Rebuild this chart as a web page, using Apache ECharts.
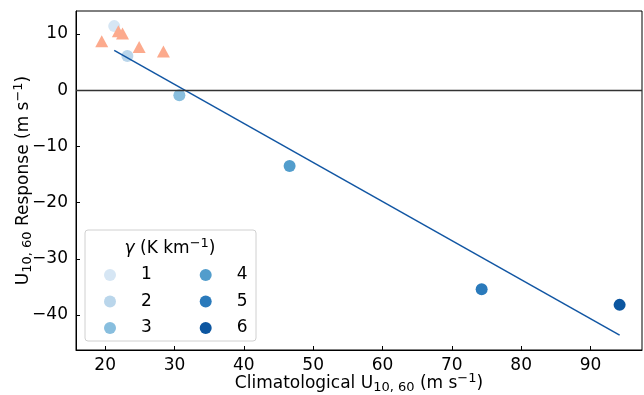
<!DOCTYPE html>
<html><head><meta charset="utf-8">
<script src="https://cdn.jsdelivr.net/npm/echarts@6/dist/echarts.min.js"></script>
<style>html,body{margin:0;padding:0;background:#fff}#c{width:644px;height:395px}</style>
</head><body><div id="c"></div>
<script>
// ---- data ----
const gammaLabels = ['1', '2', '3', '4', '5', '6'];
const circleX = [21.3, 23.2, 30.7, 46.6, 74.3, 94.2];
const circleY = [11.4, 6.1, -0.9, -13.5, -35.4, -38.2];
const triangleX = [19.5, 21.9, 22.5, 24.9, 28.4];
const triangleY = [8.7, 10.5, 10.1, 7.7, 6.9];
const fitX = [21.3, 94.2];
const fitY = [7.1, -43.6];
const xTicks = [20, 30, 40, 50, 60, 70, 80, 90];
const yTicks = [-40, -30, -20, -10, 0, 10];

// ---- styles ----
const gammaColors = ['#d6e6f4', '#bad6eb', '#88bede', '#529dcc', '#2a7abb', '#0c56a0'];
const FONT = 'DejaVu Sans';
const minus = v => String(v).replace('-', '\u2212');

const chart = echarts.init(document.getElementById('c'), null, {renderer: 'canvas'});

const series = gammaLabels.map((g, i) => ({
  name: g, type: 'scatter', symbol: 'circle', symbolSize: 12,
  data: [[circleX[i], circleY[i]]],
  itemStyle: {color: gammaColors[i], opacity: 1},
  emphasis: {disabled: true}, z: 2
}));
series.push({
  name: 'triangles', type: 'scatter', symbol: 'triangle', symbolSize: [13, 12],
  data: triangleX.map((x, i) => [x, triangleY[i]]),
  itemStyle: {color: '#fcaa8d', opacity: 1},
  emphasis: {disabled: true}, z: 3
});
series.push({
  name: 'fit', type: 'line', symbol: 'none', showSymbol: false,
  data: fitX.map((x, i) => [x, fitY[i]]),
  lineStyle: {color: '#1156a3', width: 1.5},
  emphasis: {disabled: true}, z: 4,
  markLine: {silent: true, symbol: 'none', label: {show: false}, animation: false,
    lineStyle: {color: '#333', width: 1.3, type: 'solid'}, data: [{yAxis: 0}]}
});

const rich = {
  t: {fontFamily: FONT, fontSize: 17, color: '#000'},
  s: {fontFamily: FONT, fontSize: 13, color: '#000', padding: [8, 0, 0, 0]},
  p: {fontFamily: FONT, fontSize: 13, color: '#000', padding: [0, 0, 10, 0]},
  i: {fontFamily: FONT, fontSize: 17, color: '#000', fontStyle: 'italic'}
};

const legendBase = {
  orient: 'vertical', padding: 0, itemWidth: 52, itemHeight: 12, itemGap: 8.5,
  icon: 'circle', selectedMode: false, z: 10,
  textStyle: {fontFamily: FONT, fontSize: 17, color: '#000', lineHeight: 18}
};

chart.setOption({
  animation: false,
  backgroundColor: '#fff',
  grid: {left: 76, right: 2, top: 11, bottom: 45, containLabel: false, outerBoundsMode: 'none',
         show: true, borderColor: '#000', borderWidth: 1, backgroundColor: 'transparent'},
  xAxis: {
    type: 'value', min: 15.79, max: 97.43,
    name: '{t|Climatological U}{s|10, 60}{t| (m s}{p|\u22121}{t|)}',
    nameLocation: 'middle', nameGap: 22, nameMoveOverlap: false,
    nameTextStyle: {fontFamily: FONT, fontSize: 17, color: '#000', rich: rich},
    axisLine: {show: true, onZero: false, lineStyle: {color: '#000', width: 1}},
    axisTick: {show: true, inside: true, length: 4, customValues: xTicks, lineStyle: {color: '#000'}},
    axisLabel: {customValues: xTicks, formatter: minus, fontFamily: FONT, fontSize: 17, color: '#000', margin: 7},
    splitLine: {show: false}
  },
  yAxis: {
    type: 'value', min: -46.23, max: 14.09,
    name: '{t|U}{s|10, 60}{t| Response (m s}{p|\u22121}{t|)}',
    nameLocation: 'middle', nameGap: 41, nameRotate: 90, nameMoveOverlap: false,
    nameTextStyle: {fontFamily: FONT, fontSize: 17, color: '#000', rich: rich},
    axisLine: {show: true, onZero: false, lineStyle: {color: '#000', width: 1}},
    axisTick: {show: true, inside: true, length: 4, customValues: yTicks, lineStyle: {color: '#000'}},
    axisLabel: {customValues: yTicks, formatter: minus, fontFamily: FONT, fontSize: 17, color: '#000', margin: 8},
    splitLine: {show: false}
  },
  legend: [
    Object.assign({}, legendBase, {data: gammaLabels.slice(0, 3), left: 104, top: 266}),
    Object.assign({}, legendBase, {data: gammaLabels.slice(3, 6), left: 199.7, top: 266})
  ],
  graphic: [
    {type: 'rect', x: 85, y: 230, z: 1,
     shape: {x: 0, y: 0, width: 171, height: 111, r: 3},
     style: {fill: 'rgba(255,255,255,0.8)', stroke: '#d0d0d0', lineWidth: 1}},
    {type: 'text', z: 100, x: 170, y: 249,
     style: {text: '{i|\u03b3} (K km{p|\u22121})', rich: rich, font: '17px ' + FONT, align: 'center', verticalAlign: 'middle', fill: '#000'}}
  ],
  series: series
});
</script>
</body></html>
